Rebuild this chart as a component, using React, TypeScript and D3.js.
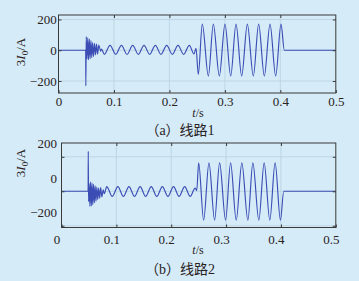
import React, { useEffect, useRef } from 'react';
import * as d3 from 'd3';

// ---- data ----
const xTicks = [0, 0.1, 0.2, 0.3, 0.4, 0.5];
const xTickLabels = ['0', '0.1', '0.2', '0.3', '0.4', '0.5'];
const yTicks = [-200, 0, 200];
const yTickLabels = ['\u2212200', '0', '200'];
const captions = ['\uff08a\uff09\u7ebf\u8def1', '\uff08b\uff09\u7ebf\u8def2'];

// line 1 : time (s) and 3I0 (A)
const line1T = [0, 0.049, 0.0493, 0.05, 0.0514, 0.0528, 0.0542, 0.0556, 0.057, 0.0585, 0.06, 0.0615, 0.0632, 0.065, 0.0668, 0.0686, 0.0705, 0.0727, 0.076, 0.0775,
  0.0827, 0.0929, 0.1032, 0.1135, 0.1236, 0.1338, 0.144, 0.1542, 0.1644, 0.1746, 0.1848, 0.1951, 0.2053, 0.2155, 0.2257, 0.2359, 0.2443, 0.248,
  0.2521, 0.2593, 0.2702, 0.2792, 0.29, 0.3002, 0.3105, 0.3201, 0.3303, 0.3405, 0.3513, 0.3609, 0.3711, 0.3814, 0.3916, 0.4012, 0.4072, 0.5];
const line1I = [0, 0, -232, 88, -58, 80, -62, 72, -55, 62, -48, 50, -40, 45, -30, 40, -25, 34, -6, 8,
  -27, 32, -27, 32, -27, 32, -27, 32, -27, 32, -27, 32, -27, 32, -27, 32, -24, 12,
  -158, 170, -168, 170, -168, 170, -168, 170, -168, 170, -168, 170, -168, 170, -168, 170, 0, 0];

// line 2
const line2T = [0, 0.0485, 0.0488, 0.0493, 0.0505, 0.0518, 0.0531, 0.0544, 0.0557, 0.057, 0.0584, 0.0598, 0.0613, 0.0628, 0.0644, 0.066, 0.0677, 0.0695, 0.0714, 0.0735, 0.076, 0.078,
  0.0824, 0.0925, 0.1027, 0.1128, 0.123, 0.1331, 0.1433, 0.1534, 0.1636, 0.1737, 0.1839, 0.194, 0.2042, 0.2143, 0.2245, 0.2346, 0.2436, 0.2465,
  0.25, 0.2591, 0.2688, 0.2791, 0.2882, 0.2991, 0.3082, 0.3185, 0.3287, 0.3397, 0.3488, 0.3597, 0.3694, 0.3797, 0.3894, 0.3991, 0.4051, 0.5];
const line2I = [0, 0, 232, -60, 45, -88, 55, -85, 48, -78, 40, -68, 32, -58, 25, -48, 18, -40, 22, -32, 8, -14,
  27, -30, 27, -30, 27, -30, 27, -30, 27, -30, 27, -30, 27, -30, 27, -30, 18, 4,
  165, -168, 165, -168, 165, -168, 165, -168, 165, -168, 165, -168, 165, -168, 165, -168, 0, 0];

// ---- layout / style ----
const W = 359;
const H = 281;
const BG = '#d5ebf7';
const GRID = '#b9cfdf';
const AXIS = '#3a3a3a';
const LINE = '#3b4db5';
const TEXT = '#2a221e';
const SERIF = '"Liberation Serif", "Times New Roman", "DejaVu Serif", serif';
const CAPFONT = '"Liberation Serif", "Noto Sans CJK SC", serif';

const PANELS = [
  { left: 58.5, right: 335.8, top: 15, bottom: 93, yDomain: [-278, 229], xPad: 4, xDx: 0, yPad: 1.8, yDy: 0,
    yTitleY: 52, xTitleY: 116.5, capY: 135 },
  { left: 61.5, right: 335.8, top: 143, bottom: 227.5, yDomain: [-210, 280], xPad: 7.5, xDx: -5, yPad: 4.5, yDy: -13,
    yTitleY: 163, xTitleY: 254, capY: 274 },
];

export default function App() {
  const ref = useRef<SVGSVGElement>(null);
  useEffect(() => {
    const svg = d3.select(ref.current);
    svg.selectAll('*').remove();
    svg.append('rect').attr('width', W).attr('height', H).attr('fill', BG);
    const defs = svg.append('defs');
    const series = [
      { t: line1T, v: line1I },
      { t: line2T, v: line2I },
    ];
    PANELS.forEach((p, i) => {
      const x = d3.scaleLinear().domain([0, 0.5]).range([p.left, p.right]);
      const y = d3.scaleLinear().domain(p.yDomain).range([p.bottom, p.top]);
      const g = svg.append('g');

      // grid
      g.append('g').selectAll('line').data(xTicks.slice(1, -1)).join('line')
        .attr('x1', (d) => x(d)).attr('x2', (d) => x(d))
        .attr('y1', p.top).attr('y2', p.bottom)
        .attr('stroke', GRID).attr('stroke-width', 0.8);
      g.append('g').selectAll('line').data(yTicks).join('line')
        .attr('x1', p.left).attr('x2', p.right)
        .attr('y1', (d) => y(d)).attr('y2', (d) => y(d))
        .attr('stroke', GRID).attr('stroke-width', 0.8);

      // data
      const cid = 'clip' + i;
      defs.append('clipPath').attr('id', cid).append('rect')
        .attr('x', p.left).attr('y', p.top)
        .attr('width', p.right - p.left).attr('height', p.bottom - p.top);
      const s = series[i];
      const pts: [number, number][] = s.t.map((t, j) => [t, s.v[j]]);
      const line = d3.line<[number, number]>()
        .x((d) => x(d[0])).y((d) => y(d[1]))
        .curve(d3.curveMonotoneX);
      g.append('path').attr('d', line(pts) || '')
        .attr('fill', 'none').attr('stroke', LINE).attr('stroke-width', 1.15)
        .attr('stroke-linejoin', 'round')
        .attr('clip-path', `url(#${cid})`);

      // axes
      const style = (sel: any) => {
        sel.select('.domain').remove();
        sel.selectAll('.tick line').attr('stroke', AXIS).attr('stroke-width', 1);
        sel.attr('font-family', SERIF).attr('font-size', 13);
        sel.selectAll('text').attr('fill', TEXT);
      };
      const axB = d3.axisBottom(x).tickValues(xTicks)
        .tickFormat((_d: any, k: number) => xTickLabels[k])
        .tickSizeInner(-3).tickSizeOuter(0).tickPadding(p.xPad);
      const gb = g.append('g').attr('transform', `translate(0,${p.bottom})`).call(axB);
      style(gb);
      gb.selectAll('text').attr('dx', p.xDx);

      const axT = d3.axisTop(x).tickValues(xTicks.slice(1, -1))
        .tickFormat(() => '').tickSizeInner(-3).tickSizeOuter(0);
      style(g.append('g').attr('transform', `translate(0,${p.top})`).call(axT));

      const axL = d3.axisLeft(y).tickValues(yTicks)
        .tickFormat((_d: any, k: number) => yTickLabels[k])
        .tickSizeInner(-3).tickSizeOuter(0).tickPadding(p.yPad);
      const gl = g.append('g').attr('transform', `translate(${p.left},0)`).call(axL);
      style(gl);
      gl.selectAll('text').attr('transform', `translate(0,${p.yDy})`);

      const axR = d3.axisRight(y).tickValues(yTicks)
        .tickFormat(() => '').tickSizeInner(-3).tickSizeOuter(0);
      style(g.append('g').attr('transform', `translate(${p.right},0)`).call(axR));

      // box
      g.append('rect')
        .attr('x', p.left).attr('y', p.top)
        .attr('width', p.right - p.left).attr('height', p.bottom - p.top)
        .attr('fill', 'none').attr('stroke', AXIS).attr('stroke-width', 1);

      // y title: 3I0/A
      const yt = g.append('text')
        .attr('transform', `translate(25,${p.yTitleY}) rotate(-90)`)
        .attr('text-anchor', 'middle')
        .attr('font-family', SERIF).attr('font-size', 13).attr('fill', TEXT);
      yt.append('tspan').text('3');
      yt.append('tspan').attr('font-style', 'italic').text('I');
      yt.append('tspan').attr('font-size', 9).attr('dy', 3).text('0');
      yt.append('tspan').attr('dy', -3).text('/A');

      // x title: t/s
      const xt = g.append('text')
        .attr('x', 198).attr('y', p.xTitleY)
        .attr('text-anchor', 'middle')
        .attr('font-family', SERIF).attr('font-size', 12).attr('fill', TEXT);
      xt.append('tspan').attr('font-style', 'italic').text('t');
      xt.append('tspan').text('/s');

      // caption
      g.append('text')
        .attr('x', 180).attr('y', p.capY)
        .attr('text-anchor', 'middle')
        .attr('font-family', CAPFONT).attr('font-size', 14).attr('fill', TEXT)
        .text(captions[i]);
    });
  }, []);
  return (
    <svg
      ref={ref}
      width={W}
      height={H}
      style={{ position: 'fixed', left: 0, top: 0, display: 'block' }}
    />
  );
}
